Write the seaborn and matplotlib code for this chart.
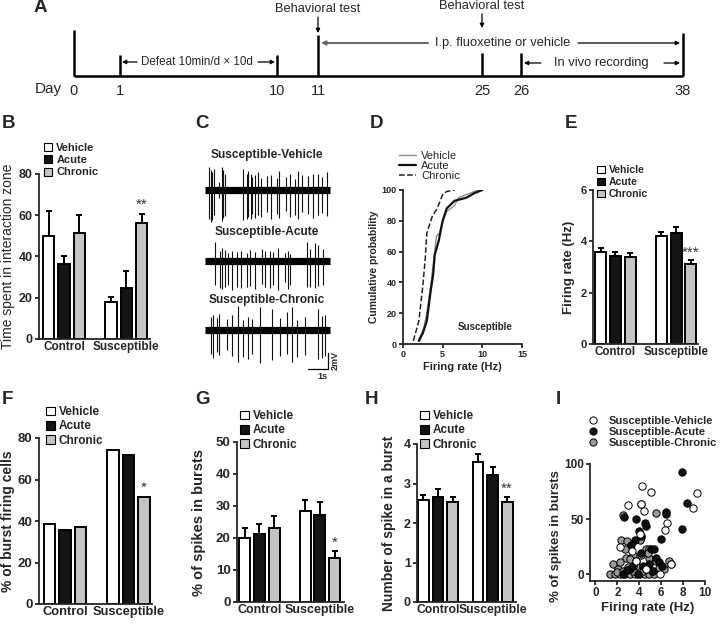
import numpy as np
import pandas as pd
import matplotlib.pyplot as plt
import seaborn as sns
from matplotlib.patches import Patch
from matplotlib.lines import Line2D
plt.switch_backend("Agg")

sns.set_style("ticks")
plt.rcParams["font.family"] = ["Liberation Sans", "DejaVu Sans"]
plt.rcParams["font.weight"] = "bold"
plt.rcParams["axes.labelweight"] = "bold"
plt.rcParams["axes.linewidth"] = 1.3
plt.rcParams["xtick.major.width"] = 1.3
plt.rcParams["ytick.major.width"] = 1.3
plt.rcParams["xtick.major.size"] = 3
plt.rcParams["ytick.major.size"] = 3

W, H = 720, 623

groups = ["Control", "Susceptible"]
treatments = ["Vehicle", "Acute", "Chronic"]
bar_colors = ["white", "#141414", "#c4c4c4"]

# A: timeline (schematic positions)
day_labels = ["0", "1", "10", "11", "25", "26", "38"]
day_x = [74, 120, 277, 318, 482, 521, 683]
day_top = [30, 55, 55, 35, 53, 53, 33]

# B: time in interaction zone
interaction_mean = [50, 36.5, 51.5, 18, 24.5, 56]
interaction_sem = [12, 3.5, 8.5, 2.5, 8.5, 4.5]

# C: spike times (s) and amplitudes (mV)
veh_spikes = [0.2, 0.3, 0.37, 0.47, 0.7, 0.83, 0.92, 1.0, 1.92, 2.08, 2.17, 2.28, 2.37, 2.5, 2.63,
              2.8, 3.08, 3.3, 3.58, 3.7, 4.03, 4.25, 4.5, 4.67, 4.83, 5.17, 5.42, 5.63, 5.83, 6.08]
veh_up = [2.8, 2.5, 2.2, 2.6, 1.0, 2.8, 2.5, 2.0, 2.6, 2.0, 2.3, 2.0, 1.6, 1.8, 2.2,
          1.5, 1.7, 1.9, 1.5, 2.3, 1.6, 2.0, 1.4, 2.4, 1.8, 1.7, 2.0, 2.0, 1.6, 2.2]
veh_down = [3.6, 4.0, 3.8, 3.2, 1.0, 3.9, 3.5, 3.3, 3.8, 3.6, 3.4, 3.7, 3.0, 3.5, 3.2,
            3.4, 2.8, 3.6, 3.0, 3.5, 2.6, 3.4, 3.2, 3.6, 2.8, 3.0, 3.5, 3.2, 2.9, 3.3]
acute_spikes = [0.5, 0.75, 0.87, 1.0, 1.17, 1.33, 1.58, 1.78, 2.08, 2.25, 2.5, 2.83, 3.0, 3.25,
                3.42, 3.67, 4.0, 4.17, 4.25, 5.08, 5.25, 5.5, 5.67, 5.92]
acute_up = [2.4, 1.2, 1.6, 1.4, 1.0, 1.3, 1.1, 1.2, 1.0, 1.4, 1.1, 1.5, 1.2, 1.3,
            1.1, 1.6, 1.0, 1.3, 0.9, 2.4, 1.5, 2.2, 2.0, 1.5]
acute_down = [3.0, 3.4, 3.5, 3.3, 3.0, 3.6, 3.2, 3.4, 3.2, 3.1, 3.5, 2.9, 3.3, 3.4,
              3.0, 3.6, 2.6, 3.5, 3.0, 3.2, 3.3, 3.4, 3.1, 3.0]
chronic_spikes = [0.28, 0.42, 0.58, 0.72, 1.08, 1.33, 1.67, 1.92, 2.17, 2.33, 2.75, 3.33, 3.75,
                  4.08, 4.33, 4.58, 5.0, 5.67, 5.83, 6.0]
chronic_up = [1.6, 1.9, 1.5, 2.0, 1.4, 1.8, 3.0, 1.2, 1.6, 1.3, 2.9, 2.6, 1.5, 2.2, 2.8, 1.2, 1.6, 2.6, 1.7, 1.9]
chronic_down = [3.0, 3.5, 2.8, 3.2, 2.5, 3.3, 4.0, 3.4, 3.6, 3.0, 4.2, 3.8, 3.3, 3.0, 4.0, 3.4, 3.2, 3.6, 3.5, 3.3]

# D: cumulative probability curves
cdf_veh_x = [2.0, 2.6, 3.0, 3.5, 4.0, 4.2, 4.6, 5.0, 5.5, 6.5, 7.0, 8.0, 9.5]
cdf_veh_y = [3, 10, 20, 38, 60, 70, 72, 80, 86, 90, 95, 97, 100]
cdf_acute_x = [2.0, 2.5, 3.0, 3.5, 3.8, 4.0, 4.5, 5.0, 5.5, 6.5, 8.0, 9.0, 10.0]
cdf_acute_y = [2, 7, 15, 35, 45, 58, 67, 80, 88, 93, 95, 98, 100]
cdf_chronic_x = [1.3, 2.0, 2.5, 2.8, 3.0, 3.7, 4.3, 5.0, 5.5, 6.5]
cdf_chronic_y = [2, 15, 38, 55, 72, 83, 88, 97, 99, 100]

# E: firing rate
rate_mean = [3.6, 3.42, 3.4, 4.2, 4.32, 3.12]
rate_sem = [0.14, 0.18, 0.15, 0.18, 0.22, 0.14]

# F: % burst firing cells
burst_cells = [38.5, 35.5, 37, 74, 72, 51.5]

# G: % spikes in bursts
sib_mean = [20, 21.2, 23.2, 28.5, 27.2, 13.6]
sib_sem = [3.2, 3.3, 3.7, 3.5, 4.0, 2.2]

# H: spikes per burst
spb_mean = [2.58, 2.66, 2.52, 3.54, 3.22, 2.52]
spb_sem = [0.14, 0.2, 0.15, 0.2, 0.2, 0.13]

# I: scatter firing rate vs % spikes in bursts
veh_rate = [4.27, 5.07, 9.3, 2.99, 4.12, 4.2, 4.4, 8.87, 6.57, 6.36, 2.24, 3.3, 6.9, 5.9, 4.1, 3.7, 4.6]
veh_burst = [80.5, 75, 74, 62.5, 64, 64, 57, 60, 47, 40, 25, 21, 9, 0, 37, 12, 5]
acute_rate = [7.9, 8.36, 7.9, 6.4, 6.4, 5.97, 2.63, 3.67, 4.54, 4.63, 3.97, 4.2, 3.58, 3.28, 5.07,
              5.37, 4.12, 5.5, 5.8, 6.06, 3.73, 4.33, 4.6, 3.13, 3.9, 2.54, 2.84, 4.9, 3.4, 5.2]
acute_burst = [93, 65, 41, 56.5, 55, 32, 52, 50.5, 47, 43.6, 39, 35, 31, 27, 23,
               23, 19.5, 15, 11, 8, 12, 8, 5, 5, 0, 0, 4, 9, 8, 3.5]
chronic_rate = [2.48, 5.52, 2.33, 2.84, 4.12, 4.03, 3.13, 2.69, 4.63, 4.93, 2.75, 3.43, 4.18, 4.93,
                5.52, 6.72, 6.87, 1.64, 2.09, 2.99, 3.73, 4.78, 5.82, 6.27, 1.34, 1.79, 2.24, 2.69,
                3.13, 3.58, 4.03, 4.48, 4.93, 5.37, 2.0, 2.54, 3.43, 4.33, 5.22, 4.78, 3.13, 2.24]
chronic_burst = [53.5, 56, 31, 30, 34, 31, 24, 23, 23, 23, 15, 18, 18, 15,
                 12, 12, 9.3, 9.3, 5, 6.4, 8, 8, 6, 5, 0, 0, 0, 0,
                 0, 0, 0, 0, 0, 0, 2, 3, 3.5, 3.5, 3, 19.5, 13.7, 10.8]


def rect(x0, y0, x1, y1):
    return [x0 / W, 1 - y1 / H, (x1 - x0) / W, (y1 - y0) / H]


def fig_xy(x, y):
    return (x / W, 1 - y / H)


def place_ylabel(ax, box, center_px, fs, ypos=0.5):
    # label anchor is the baseline side of the rotated text; shift so the glyphs centre on center_px
    anchor = center_px + 0.8 * fs
    ax.yaxis.set_label_coords((anchor - box[0]) / (box[2] - box[0]), ypos)


fig = plt.figure(figsize=(W / 100, H / 100), dpi=100)

# panel letters
for letter, (lx, ly) in {"A": (34, 8), "B": (2, 123), "C": (195, 123), "D": (370, 123), "E": (565, 123),
                         "F": (2, 400), "G": (195, 400), "H": (365, 400), "I": (556, 400)}.items():
    fig.text(*fig_xy(lx, ly), letter, fontsize=13.5, fontweight="bold", va="center", ha="left")

# ---- A: timeline ----
axa = fig.add_axes([0, 1 - 100 / H, 1, 100 / H])
axa.set_xlim(0, W)
axa.set_ylim(100, 0)
axa.axis("off")
axa.plot([day_x[0], day_x[-1]], [76, 76], color="black", lw=1.8, solid_capstyle="butt")
axa.vlines(day_x, day_top, 76, color="black", lw=1.8)
for lab, x in zip(day_labels, day_x):
    axa.text(x, 91, lab, ha="center", va="center", fontsize=10.5, fontweight="normal")
axa.text(48, 89, "Day", ha="center", va="center", fontsize=11, fontweight="normal")
tl_font = dict(fontsize=9.3, fontweight="normal", va="center")
arrow = dict(arrowstyle="-|>", color="black", lw=0.9, mutation_scale=6, shrinkA=0, shrinkB=0)
axa.text(day_x[3], 9, "Behavioral test", ha="center", **tl_font)
axa.annotate("", xy=(day_x[3], 33), xytext=(day_x[3], 17), arrowprops=arrow)
axa.text(day_x[4], 6, "Behavioral test", ha="center", **tl_font)
axa.annotate("", xy=(day_x[4], 28), xytext=(day_x[4], 14), arrowprops=arrow)
axa.text(503, 43, "I.p. fluoxetine or vehicle", ha="center", **tl_font)
axa.annotate("", xy=(day_x[3] + 3, 43), xytext=(428, 43),
             arrowprops=dict(arrow, color="#666666", lw=1.4))
axa.annotate("", xy=(day_x[6] - 3, 43), xytext=(578, 43), arrowprops=arrow)
axa.text(197, 62, "Defeat 10min/d \u00d7 10d", ha="center", **dict(tl_font, fontsize=8.4))
axa.annotate("", xy=(day_x[1] + 2, 62), xytext=(137, 62), arrowprops=arrow)
axa.annotate("", xy=(day_x[2] - 2, 62), xytext=(258, 62), arrowprops=arrow)
axa.text(601, 63, "In vivo recording", ha="center", **tl_font)
axa.annotate("", xy=(day_x[5] + 3, 63), xytext=(541, 63), arrowprops=arrow)
axa.annotate("", xy=(day_x[6] - 3, 63), xytext=(664, 63), arrowprops=arrow)


def bar_panel(box, mean, sem, ylim, yticks, ylabel, star, star_gap, legend_at, xlim, width,
              tick_fs=9, cat_fs=9, leg_fs=8.5, lab_fs=10, lab_weight="bold", lab_x=None):
    ax = fig.add_axes(rect(*box))
    df = pd.DataFrame({"group": np.repeat(groups, 3), "treatment": treatments * 2, "value": mean})
    sns.barplot(data=df, x="group", y="value", hue="treatment", hue_order=treatments,
                palette=bar_colors, edgecolor="black", linewidth=1.4, width=width, gap=0.25,
                errorbar=None, legend=False, ax=ax)
    bar_conts = list(ax.containers)
    top_chronic = None
    for h, cont in enumerate(bar_conts):
        for g, bar in enumerate(cont):
            i = g * 3 + h
            xc = bar.get_x() + bar.get_width() / 2
            top = mean[i]
            if sem is not None:
                ax.errorbar(xc, mean[i], yerr=[[0], [sem[i]]], fmt="none", ecolor="black",
                            elinewidth=1.4, capsize=2.3, capthick=1.4, zorder=3)
                top = mean[i] + sem[i]
            if h == 2 and g == 1:
                top_chronic = (xc, top)
    ax.text(top_chronic[0], top_chronic[1] + star_gap, star, ha="center", va="bottom",
            fontsize=11, fontweight="normal", color="#333333")
    ax.set_ylim(*ylim)
    ax.set_yticks(yticks)
    ax.set_xlim(*xlim)
    ax.set_xlabel("")
    ax.set_ylabel(ylabel, fontsize=lab_fs, fontweight=lab_weight)
    if lab_x is not None:
        place_ylabel(ax, box, lab_x, lab_fs)
    sns.despine(ax=ax)
    ax.tick_params(axis="x", length=0, pad=1.5, labelsize=cat_fs)
    ax.tick_params(axis="y", labelsize=tick_fs, pad=1.5)
    handles = [Patch(facecolor=c, edgecolor="black", lw=0.8) for c in bar_colors]
    ax.legend(handles, treatments, loc="upper left", bbox_to_anchor=fig_xy(*legend_at),
              bbox_transform=fig.transFigure, frameon=False, handlelength=0.75, handleheight=0.75,
              handletextpad=0.35, labelspacing=0.2, borderpad=0, borderaxespad=0,
              prop=dict(weight="bold", size=leg_fs))
    return ax


bar_panel((39, 174, 150, 339), interaction_mean, interaction_sem, (0, 80), [0, 20, 40, 60, 80],
          "Time spent in interaction zone", "**", 1.0, (44, 143), (-0.40, 1.38), 0.74,
          tick_fs=9, cat_fs=8.5, leg_fs=8, lab_fs=10, lab_weight="normal", lab_x=7)
bar_panel((593, 190, 698, 344), rate_mean, rate_sem, (0, 6), [0, 2, 4, 6],
          "Firing rate (Hz)", "***", 0.03, (597, 165), (-0.37, 1.36), 0.73,
          tick_fs=8, cat_fs=8.3, leg_fs=7.5, lab_fs=9.5, lab_x=567)
bar_panel((39, 438, 152, 604), burst_cells, None, (0, 80), [0, 20, 40, 60, 80],
          "% of burst firing cells", "*", 1.0, (46, 406), (-0.41, 1.37), 0.73,
          tick_fs=9.5, cat_fs=9.3, leg_fs=8.5, lab_fs=10, lab_x=7)
bar_panel((237, 442, 344, 602), sib_mean, sib_sem, (0, 50), [0, 10, 20, 30, 40, 50],
          "% of spikes in bursts", "*", 0.6, (240, 410), (-0.37, 1.40), 0.73,
          tick_fs=9.5, cat_fs=9, leg_fs=8.5, lab_fs=10.5, lab_x=198)
bar_panel((417, 444, 516, 602), spb_mean, spb_sem, (0, 4), [0, 1, 2, 3, 4],
          "Number of spike in a burst", "**", 0.03, (420, 410), (-0.385, 1.43), 0.8,
          tick_fs=9, cat_fs=8.7, leg_fs=8.5, lab_fs=10, lab_x=388)

# ---- C: traces ----
axc = fig.add_axes(rect(205, 140, 340, 385))
axc.set_xlim(0, 6.75)
axc.set_ylim(0, 30.625)
axc.axis("off")
traces = [("Susceptible-Vehicle", veh_spikes, veh_up, veh_down, 24.4, 28.75),
          ("Susceptible-Acute", acute_spikes, acute_up, acute_down, 15.5, 19.1),
          ("Susceptible-Chronic", chronic_spikes, chronic_up, chronic_down, 6.9, 10.6)]
for name, times, up, down, base, ty in traces:
    axc.plot([0, 6.25], [base, base], color="black", lw=5.2, solid_capstyle="butt")
    axc.vlines(times, base - np.array(down), base + np.array(up), color="#111111", lw=0.8)
    axc.text(3.1, ty, name, ha="center", va="center", fontsize=8.6)
axc.plot([5.15, 6.15, 6.15], [2.0, 2.0, 4.0], color="black", lw=0.9)
axc.text(5.85, 1.6, "1s", ha="center", va="top", fontsize=6.5)
axc.text(6.3, 3.0, "2mV", ha="left", va="center", rotation=90, fontsize=6.5)

# ---- D: cumulative probability ----
dbox = (403, 190, 522, 344)
axd = fig.add_axes(rect(*dbox))
sns.lineplot(x=cdf_veh_x, y=cdf_veh_y, ax=axd, color="#8c8c8c", lw=1.0, sort=False, estimator=None, label="Vehicle")
sns.lineplot(x=cdf_acute_x, y=cdf_acute_y, ax=axd, color="#111111", lw=1.6, sort=False, estimator=None, label="Acute")
sns.lineplot(x=cdf_chronic_x, y=cdf_chronic_y, ax=axd, color="#222222", lw=1.1, ls="--", sort=False,
             estimator=None, label="Chronic")
axd.set_xlim(0, 15)
axd.set_ylim(0, 100)
axd.set_xticks([0, 5, 10, 15])
axd.set_yticks([0, 20, 40, 60, 80, 100])
axd.tick_params(labelsize=6.5, pad=1.5)
axd.set_xlabel("Firing rate (Hz)", fontsize=8, labelpad=2)
axd.set_ylabel("Cumulative probability", fontsize=7.5)
place_ylabel(axd, dbox, 373, 7.5)
axd.text(10.3, 11, "Susceptible", ha="center", va="center", fontsize=7)
sns.despine(ax=axd)
axd.legend(loc="upper left", bbox_to_anchor=fig_xy(399, 151), bbox_transform=fig.transFigure,
           frameon=False, handlelength=1.5, handletextpad=0.5, labelspacing=0.0, borderpad=0,
           borderaxespad=0, prop=dict(weight="normal", size=8))

# ---- I: scatter ----
ibox = (590, 464, 705, 581)
axi = fig.add_axes(rect(*ibox))
sns.scatterplot(x=chronic_rate, y=chronic_burst, ax=axi, color="#9a9a9a", edgecolor="black", s=28, linewidth=0.7, zorder=3)
sns.scatterplot(x=acute_rate, y=acute_burst, ax=axi, color="#111111", edgecolor="black", s=28, linewidth=0.7, zorder=4)
sns.scatterplot(x=veh_rate, y=veh_burst, ax=axi, color="white", edgecolor="black", s=28, linewidth=0.7, zorder=5)
axi.set_xlim(-0.5, 10)
axi.set_ylim(-6, 100)
axi.set_xticks([0, 2, 4, 6, 8, 10])
axi.set_yticks([0, 50, 100])
axi.tick_params(labelsize=8.5, pad=1.5)
axi.set_xlabel("Firing rate (Hz)", fontsize=9.5, labelpad=2)
axi.set_ylabel("% of spikes in bursts", fontsize=9.5)
place_ylabel(axi, ibox, 554, 9.5, ypos=0.38)
sns.despine(ax=axi)
mk = dict(marker="o", ls="none", markersize=5.2, markeredgecolor="black", markeredgewidth=0.7)
ih = [Line2D([], [], markerfacecolor="white", **mk), Line2D([], [], markerfacecolor="#111111", **mk),
      Line2D([], [], markerfacecolor="#9a9a9a", **mk)]
axi.legend(ih, ["Susceptible-Vehicle", "Susceptible-Acute", "Susceptible-Chronic"], loc="upper left",
           bbox_to_anchor=fig_xy(587, 416), bbox_transform=fig.transFigure, frameon=False,
           handlelength=1.0, handletextpad=1.0, labelspacing=0.1, borderpad=0, borderaxespad=0,
           prop=dict(weight="bold", size=8))

fig.savefig("out.png", dpi=100)
